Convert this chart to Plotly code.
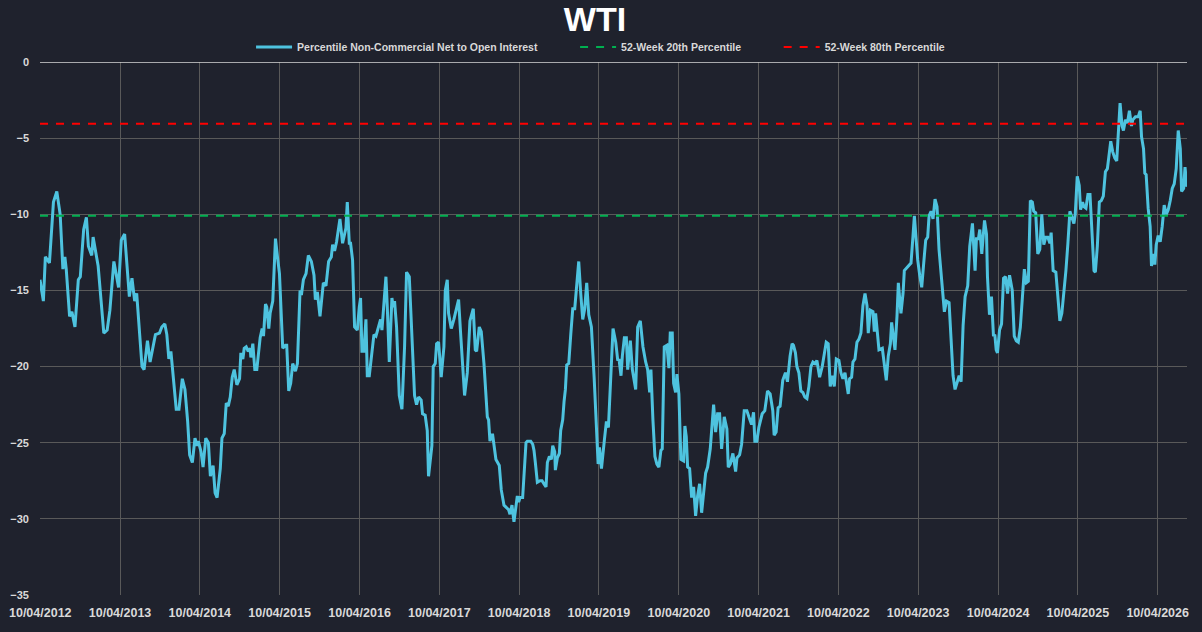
import pandas as pd
import plotly.graph_objects as go

# Percentile Non-Commercial Net to Open Interest
# time as decimal years, values in percent
t_2012_2014 = [2012.270, 2012.312, 2012.337, 2012.388, 2012.438, 2012.480, 2012.522, 2012.556, 2012.581, 2012.598,
               2012.640, 2012.669, 2012.707, 2012.749, 2012.774, 2012.816, 2012.850, 2012.875, 2012.917, 2012.934,
               2012.997, 2013.068, 2013.110, 2013.144, 2013.194, 2013.236, 2013.253, 2013.287, 2013.329, 2013.388,
               2013.421, 2013.455, 2013.480, 2013.547, 2013.573, 2013.615, 2013.648, 2013.715, 2013.766, 2013.795,
               2013.833, 2013.858, 2013.883, 2013.909, 2013.976, 2014.010, 2014.052, 2014.085, 2014.119, 2014.144,
               2014.178, 2014.211, 2014.236, 2014.253, 2014.287, 2014.312, 2014.346, 2014.379, 2014.404, 2014.438,
               2014.463, 2014.488]
v_2012_2014 = [-14.3, -15.7, -12.8, -13.2, -9.2, -8.5, -10.0, -13.6, -12.8, -13.6,
               -16.7, -16.4, -17.4, -14.3, -14.1, -11.0, -10.2, -12.1, -12.7, -11.5,
               -13.4, -17.8, -17.6, -16.3, -13.1, -14.5, -14.8, -11.7, -11.3, -15.4,
               -14.2, -15.7, -15.2, -20.0, -20.2, -18.3, -19.7, -17.9, -17.8, -17.4,
               -17.2, -17.9, -19.5, -19.0, -22.8, -22.8, -20.8, -21.5, -23.6, -25.8,
               -26.3, -24.7, -25.2, -24.9, -25.6, -26.6, -24.7, -25.0, -27.2, -26.5,
               -28.3, -28.6]

t_2014_2016 = [2014.528, 2014.549, 2014.578, 2014.603, 2014.628, 2014.653, 2014.678, 2014.703, 2014.736, 2014.770,
               2014.786, 2014.811, 2014.828, 2014.853, 2014.878, 2014.903, 2014.911, 2014.936, 2014.961, 2014.986,
               2015.011, 2015.028, 2015.053, 2015.070, 2015.095, 2015.111, 2015.136, 2015.153, 2015.186, 2015.220,
               2015.245, 2015.270, 2015.311, 2015.345, 2015.361, 2015.386, 2015.411, 2015.436, 2015.470, 2015.495,
               2015.528, 2015.545, 2015.570, 2015.603, 2015.632, 2015.670, 2015.703, 2015.720, 2015.745, 2015.778,
               2015.820, 2015.853, 2015.886, 2015.920, 2015.936, 2015.961, 2015.986, 2016.011, 2016.028, 2016.061,
               2016.086, 2016.103, 2016.120, 2016.145, 2016.161, 2016.186, 2016.211, 2016.245, 2016.270, 2016.286,
               2016.303, 2016.328, 2016.353, 2016.370, 2016.395, 2016.428, 2016.453, 2016.478, 2016.511, 2016.536,
               2016.553, 2016.578, 2016.603, 2016.620, 2016.645, 2016.678, 2016.695, 2016.711, 2016.736, 2016.770,
               2016.803, 2016.836, 2016.861, 2016.895, 2016.928, 2016.961, 2016.986]
v_2014_2016 = [-26.7, -24.7, -24.4, -22.4, -22.6, -22.0, -20.7, -20.2, -21.2, -20.8,
               -19.1, -19.5, -18.8, -18.7, -19.0, -18.8, -19.4, -18.5, -20.2, -20.2,
               -18.9, -18.1, -17.5, -18.0, -15.9, -16.1, -17.5, -16.5, -15.7, -11.6,
               -12.8, -13.9, -18.8, -18.6, -18.6, -21.6, -21.1, -19.8, -20.3, -19.8,
               -15.0, -15.3, -14.3, -13.9, -12.7, -13.1, -14.0, -15.6, -15.1, -16.7,
               -14.5, -14.7, -13.1, -12.8, -12.0, -12.4, -11.8, -10.8, -10.3, -11.9,
               -11.3, -10.9, -9.2, -11.9, -11.9, -13.0, -17.4, -17.6, -16.1, -15.5,
               -19.0, -19.0, -16.9, -20.6, -20.6, -18.8, -17.9, -18.0, -17.3, -16.9,
               -17.6, -15.8, -14.1, -16.1, -19.7, -15.5, -16.1, -15.7, -17.4, -21.9,
               -22.8, -18.7, -13.8, -14.1, -18.0, -21.9, -22.5]

t_2017_2019 = [2017.011, 2017.044, 2017.061, 2017.094, 2017.120, 2017.136, 2017.178, 2017.195, 2017.220, 2017.237,
               2017.262, 2017.295, 2017.329, 2017.346, 2017.371, 2017.387, 2017.421, 2017.454, 2017.513, 2017.538,
               2017.563, 2017.588, 2017.622, 2017.655, 2017.697, 2017.722, 2017.739, 2017.772, 2017.797, 2017.831,
               2017.873, 2017.889, 2017.906, 2017.923, 2017.940, 2017.981, 2018.023, 2018.048, 2018.082, 2018.115,
               2018.140, 2018.157, 2018.182, 2018.207, 2018.224, 2018.249, 2018.266, 2018.283, 2018.316, 2018.333,
               2018.358, 2018.375, 2018.417, 2018.442, 2018.458, 2018.475, 2018.500, 2018.534, 2018.559, 2018.584,
               2018.609, 2018.626, 2018.651, 2018.676, 2018.693, 2018.718, 2018.726, 2018.751, 2018.776, 2018.793,
               2018.818, 2018.835, 2018.852, 2018.868, 2018.894, 2018.919, 2018.944, 2018.969, 2018.994, 2019.019,
               2019.044, 2019.069, 2019.094, 2019.119, 2019.145, 2019.178, 2019.212, 2019.237, 2019.262, 2019.279,
               2019.304]
v_2017_2019 = [-22.0, -22.2, -23.1, -23.2, -24.2, -27.2, -25.2, -20.0, -19.8, -18.5,
               -18.4, -20.7, -18.7, -15.0, -14.3, -16.5, -17.5, -16.9, -15.6, -17.8,
               -20.2, -21.9, -20.4, -17.0, -16.2, -18.9, -19.0, -17.4, -17.7, -19.8,
               -23.3, -23.5, -24.9, -24.5, -24.5, -26.1, -26.5, -28.1, -29.1, -29.3,
               -29.4, -29.7, -29.1, -30.2, -29.6, -28.5, -28.9, -28.6, -28.6, -27.4,
               -25.0, -24.9, -24.9, -25.1, -25.5, -26.3, -27.6, -27.5, -27.5, -27.7,
               -27.9, -26.3, -25.9, -26.1, -25.2, -25.6, -26.8, -26.0, -25.7, -24.2,
               -23.5, -22.3, -21.5, -19.9, -19.8, -17.9, -16.2, -16.2, -14.8, -13.1,
               -15.2, -16.9, -16.2, -14.5, -16.6, -17.4, -20.7, -23.3, -26.4, -25.3,
               -26.7]

t_2019_2021 = [2019.341, 2019.366, 2019.391, 2019.416, 2019.449, 2019.483, 2019.508, 2019.524, 2019.549, 2019.566,
               2019.591, 2019.616, 2019.633, 2019.666, 2019.691, 2019.733, 2019.758, 2019.791, 2019.824, 2019.858,
               2019.883, 2019.908, 2019.924, 2019.949, 2019.974, 2019.999, 2020.024, 2020.049, 2020.066, 2020.091,
               2020.124, 2020.149, 2020.166, 2020.191, 2020.208, 2020.233, 2020.249, 2020.274, 2020.299, 2020.333,
               2020.349, 2020.366, 2020.383, 2020.408, 2020.433, 2020.458, 2020.483, 2020.508, 2020.533, 2020.558,
               2020.583, 2020.608, 2020.633, 2020.666, 2020.708, 2020.733, 2020.758, 2020.783, 2020.808, 2020.841,
               2020.874, 2020.891, 2020.916, 2020.949, 2020.983, 2021.000, 2021.033, 2021.058, 2021.091, 2021.124,
               2021.149, 2021.183, 2021.208, 2021.224, 2021.249, 2021.274, 2021.316, 2021.349, 2021.383, 2021.416,
               2021.449, 2021.466, 2021.491, 2021.516, 2021.541, 2021.574, 2021.608, 2021.633, 2021.666, 2021.691,
               2021.708, 2021.733]
v_2019_2021 = [-24.8, -23.6, -24.0, -20.9, -17.5, -18.4, -19.6, -19.5, -20.6, -19.3,
               -18.1, -18.1, -20.2, -18.3, -20.2, -21.5, -17.4, -17.0, -18.7, -19.7,
               -20.2, -21.7, -20.2, -23.5, -25.9, -26.4, -26.6, -25.5, -25.4, -18.7,
               -18.6, -20.1, -17.8, -17.8, -21.1, -21.7, -20.5, -21.8, -26.1, -26.2,
               -23.9, -24.6, -26.6, -26.7, -28.6, -27.9, -29.8, -28.5, -27.7, -29.6,
               -28.3, -27.0, -26.6, -25.4, -22.5, -24.3, -23.1, -23.1, -25.4, -23.3,
               -24.1, -26.6, -26.4, -25.7, -26.9, -26.0, -25.8, -25.1, -22.9, -22.9,
               -23.3, -23.8, -23.0, -24.9, -24.9, -24.0, -23.1, -22.9, -21.6, -21.8,
               -22.9, -24.5, -24.3, -22.7, -22.6, -20.9, -20.4, -21.0, -19.3, -18.5,
               -18.6, -19.1]

t_2021_2024 = [2021.751, 2021.776, 2021.801, 2021.826, 2021.851, 2021.877, 2021.902, 2021.927, 2021.952, 2021.977,
               2022.002, 2022.036, 2022.069, 2022.094, 2022.119, 2022.144, 2022.169, 2022.195, 2022.220, 2022.245,
               2022.278, 2022.303, 2022.328, 2022.354, 2022.379, 2022.395, 2022.412, 2022.437, 2022.454, 2022.479,
               2022.504, 2022.529, 2022.554, 2022.579, 2022.605, 2022.630, 2022.646, 2022.672, 2022.705, 2022.722,
               2022.738, 2022.764, 2022.780, 2022.822, 2022.847, 2022.872, 2022.897, 2022.923, 2022.939, 2022.964,
               2022.981, 2023.006, 2023.023, 2023.056, 2023.082, 2023.098, 2023.132, 2023.157, 2023.182, 2023.207,
               2023.224, 2023.241, 2023.266, 2023.291, 2023.316, 2023.341, 2023.366, 2023.391, 2023.408, 2023.433,
               2023.458, 2023.483, 2023.508, 2023.533, 2023.567, 2023.600, 2023.626, 2023.659, 2023.684, 2023.709,
               2023.734, 2023.759, 2023.785, 2023.810, 2023.835, 2023.860, 2023.893, 2023.918, 2023.952, 2023.985,
               2024.002, 2024.027, 2024.044, 2024.069, 2024.103, 2024.128]
v_2021_2024 = [-20.0, -20.4, -21.6, -21.7, -22.0, -22.1, -21.3, -20.0, -19.7, -19.8,
               -19.6, -20.7, -20.0, -19.1, -18.4, -18.5, -21.3, -20.6, -21.3, -19.5,
               -19.6, -20.4, -20.8, -20.4, -21.2, -21.8, -20.8, -20.7, -19.7, -19.5,
               -18.4, -18.2, -17.8, -16.0, -15.2, -16.0, -17.8, -16.3, -16.4, -17.7,
               -16.5, -17.9, -18.9, -18.8, -19.7, -20.9, -19.3, -18.5, -17.1, -18.2,
               -18.9, -16.7, -14.5, -16.5, -15.2, -13.7, -13.5, -13.3, -13.2, -11.4,
               -10.1, -11.3, -13.0, -14.0, -14.8, -13.2, -11.7, -11.5, -10.1, -9.8,
               -10.3, -9.0, -9.5, -12.3, -14.6, -16.4, -15.7, -15.8, -18.2, -20.6,
               -21.5, -21.0, -20.6, -21.0, -17.3, -15.4, -14.7, -12.1, -10.6, -13.7,
               -11.6, -11.6, -11.0, -12.6, -10.4, -11.3]

t_2024_2026 = [2024.140, 2024.165, 2024.190, 2024.215, 2024.232, 2024.249, 2024.265, 2024.291, 2024.316, 2024.341,
               2024.366, 2024.391, 2024.416, 2024.450, 2024.475, 2024.500, 2024.525, 2024.551, 2024.576, 2024.601,
               2024.626, 2024.651, 2024.676, 2024.701, 2024.718, 2024.743, 2024.769, 2024.794, 2024.819, 2024.844,
               2024.869, 2024.894, 2024.920, 2024.936, 2024.961, 2024.995, 2025.020, 2025.045, 2025.070, 2025.096,
               2025.121, 2025.146, 2025.171, 2025.196, 2025.221, 2025.238, 2025.263, 2025.288, 2025.305, 2025.330,
               2025.347, 2025.372, 2025.397, 2025.423, 2025.448, 2025.473, 2025.490, 2025.515, 2025.540, 2025.565,
               2025.590, 2025.616, 2025.641, 2025.666, 2025.683, 2025.708, 2025.733, 2025.758, 2025.775, 2025.800,
               2025.825, 2025.842, 2025.867, 2025.892, 2025.917, 2025.943, 2025.959, 2025.993, 2026.027, 2026.052,
               2026.069, 2026.094, 2026.110, 2026.127, 2026.152, 2026.177, 2026.194, 2026.219, 2026.236, 2026.253,
               2026.278, 2026.303, 2026.328, 2026.353, 2026.379, 2026.404, 2026.429, 2026.454, 2026.479, 2026.504,
               2026.529, 2026.555, 2026.571, 2026.597, 2026.614, 2026.639]
v_2024_2026 = [-14.1, -16.6, -15.4, -18.0, -17.9, -18.9, -19.1, -17.6, -17.2, -14.2,
               -14.1, -15.2, -14.0, -15.0, -18.0, -18.3, -18.4, -17.4, -15.4, -13.6,
               -14.5, -14.4, -9.1, -9.2, -9.8, -9.9, -12.6, -12.3, -10.0, -12.0,
               -11.5, -11.5, -11.9, -11.2, -13.7, -13.8, -15.4, -17.0, -16.5, -15.2,
               -13.7, -11.9, -9.8, -10.2, -10.6, -10.0, -7.5, -8.1, -9.7, -9.2,
               -9.5, -9.6, -8.7, -8.7, -11.7, -13.7, -13.8, -12.1, -9.2, -9.1,
               -8.8, -7.2, -7.0, -5.9, -5.2, -5.9, -6.3, -6.5, -4.6, -2.7,
               -4.2, -4.5, -3.8, -4.0, -3.2, -4.2, -3.8, -3.6, -3.6, -3.2,
               -4.9, -5.7, -7.3, -7.4, -9.6, -10.8, -13.4, -12.6, -13.3, -12.0,
               -11.4, -11.8, -10.8, -9.4, -10.0, -9.7, -9.1, -8.3, -8.0, -7.0,
               -4.5, -5.7, -8.5, -8.3, -6.9, -8.2]

pct20 = -10.1   # 52-week 20th percentile
pct80 = -4.05   # 52-week 80th percentile

tick_years = list(range(2012, 2027))
tick_labels = ['10/04/%d' % y for y in tick_years]

BG = '#1f222d'
GRID = '#595959'
TXT = '#d9d9d9'
FONT = 'Liberation Sans, Arial, sans-serif'


def to_date(t):
    y = int(t)
    start = pd.Timestamp(y, 1, 1)
    end = pd.Timestamp(y + 1, 1, 1)
    return start + (end - start) * (t - y)


times = t_2012_2014 + t_2014_2016 + t_2017_2019 + t_2019_2021 + t_2021_2024 + t_2024_2026
values = v_2012_2014 + v_2014_2016 + v_2017_2019 + v_2019_2021 + v_2021_2024 + v_2024_2026
dates = [to_date(t) for t in times]
ends = [dates[0], dates[-1]]

main = go.Scatter(
    x=dates, y=values, mode='lines',
    name='Percentile Non-Commercial Net to Open Interest',
    line=dict(color='#4ec3df', width=3),
    legend='legend',
)
low = go.Scatter(
    x=ends, y=[pct20, pct20], mode='lines',
    name='52-Week 20th Percentile',
    line=dict(color='#00b050', width=2, dash='8px,8px'),
    legend='legend2',
)
high = go.Scatter(
    x=ends, y=[pct80, pct80], mode='lines',
    name='52-Week 80th Percentile',
    line=dict(color='#ff0000', width=2, dash='8px,8px'),
    legend='legend3',
)

legend_font = dict(family=FONT, size=10.5, color=TXT, weight='bold')


def legend_at(x):
    return dict(orientation='h', x=x, xanchor='left', y=1.028, yanchor='middle',
                font=legend_font, bgcolor='rgba(0,0,0,0)', itemwidth=36)


layout = go.Layout(
    width=1202, height=632,
    paper_bgcolor=BG, plot_bgcolor=BG,
    margin=dict(l=40, r=15, t=62, b=37, autoexpand=False),
    title=dict(text='WTI', x=0.495, xanchor='center', y=0.969, yanchor='middle',
               font=dict(family=FONT, size=34, color='#ffffff', weight='bold')),
    legend=legend_at(0.184),
    legend2=legend_at(0.4665),
    legend3=legend_at(0.644),
    xaxis=dict(
        type='date', automargin=False,
        range=[min(dates[0], pd.Timestamp(2012, 4, 10)), dates[-1]],
        tickvals=[pd.Timestamp(y, 4, 10) for y in tick_years],
        ticktext=tick_labels, tickangle=0,
        showgrid=True, gridcolor=GRID, gridwidth=1,
        zeroline=False, showline=False, ticks='',
        tickfont=dict(family=FONT, size=12.5, color=TXT, weight='bold'),
        ticklabelstandoff=8,
    ),
    yaxis=dict(
        range=[-35, 0], dtick=5, automargin=False,
        showgrid=True, gridcolor=GRID, gridwidth=1,
        zeroline=False, showline=False, ticks='',
        tickfont=dict(family=FONT, size=11, color=TXT, weight='bold'),
        ticklabelstandoff=10,
    ),
    shapes=[dict(type='line', xref='paper', yref='y', x0=0, x1=1, y0=0, y1=0,
                 line=dict(color=TXT, width=1.5))],
    showlegend=True,
)

fig = go.Figure(data=[main, low, high], layout=layout)
# drop the page's default body margin so the figure sits at the window's corner
fig.write_html('out.html', config={'displayModeBar': False},
               post_script="document.body.style.margin='0';document.body.style.background='%s';" % BG)
